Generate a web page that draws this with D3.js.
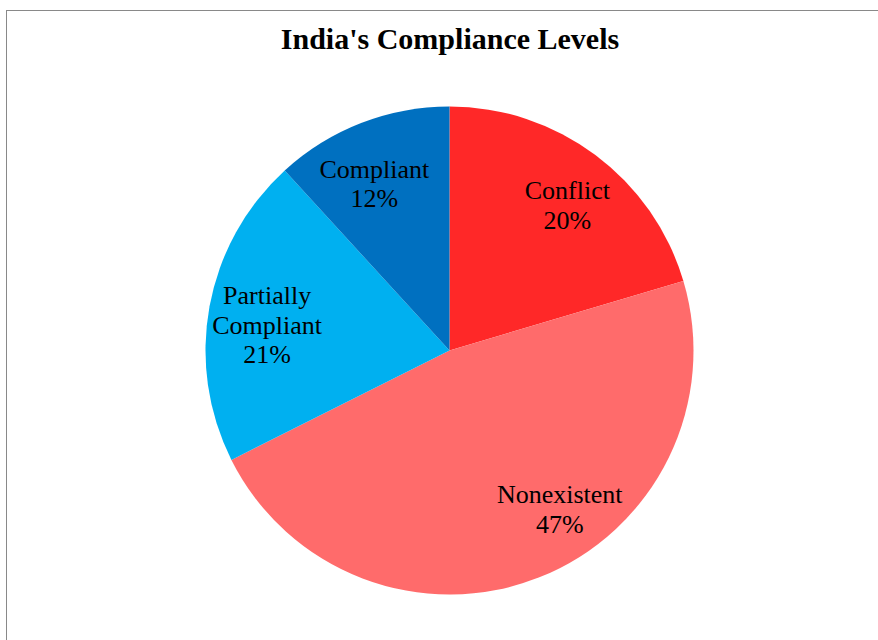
<!DOCTYPE html>
<html>
<head>
<meta charset="utf-8">
<script src="https://cdn.jsdelivr.net/npm/d3@7"></script>
<style>
  html, body { margin: 0; padding: 0; background: #fff; }
  svg { display: block; }
  text { font-family: "Liberation Serif", "Tinos", "Noto Serif", "DejaVu Serif", "FreeSerif", "Times", serif; }
</style>
</head>
<body>
<svg id="chart"></svg>
<script>
const width = 878, height = 640;

// slices in drawing order, clockwise from 12 o'clock
const categories = ["Conflict", "Nonexistent", "Partially Compliant", "Compliant"];
const shares = [20.4, 47.2, 20.6, 11.8];
const colors = ["#FF2828", "#FF6B6B", "#00B0F0", "#0070C0"];
// label lines per slice (Excel wraps the long one)
const labelLines = [["Conflict"], ["Nonexistent"], ["Partially", "Compliant"], ["Compliant"]];
// Excel's "best fit" shifts labels a bit off the centroid
const labelNudge = [[7, 3], [42, -14], [0, 8], [-8, 6]];

const svg = d3.select("#chart").attr("width", width).attr("height", height);

// chart area border (right and bottom edges fall outside the picture)
svg.append("rect")
    .attr("x", 6.5).attr("y", 10.5)
    .attr("width", width).attr("height", height)
    .attr("fill", "none").attr("stroke", "#898989").attr("stroke-width", 1);

svg.append("text")
    .attr("x", 450).attr("y", 49)
    .attr("text-anchor", "middle")
    .style("font-size", "30px").style("font-weight", "bold")
    .text("India's Compliance Levels");

const cx = 449.5, cy = 350.5, radius = 244;
const data = categories.map((c, i) => ({ name: c, value: shares[i], color: colors[i], lines: labelLines[i], nudge: labelNudge[i] }));

const pie = d3.pie().value(d => d.value).sort(null);
const arc = d3.arc().innerRadius(0).outerRadius(radius);
const labelArc = d3.arc().innerRadius(radius * 0.76).outerRadius(radius * 0.76);

const g = svg.append("g").attr("transform", `translate(${cx},${cy})`);
const arcs = pie(data);

g.selectAll("path.slice")
    .data(arcs)
    .join("path")
    .attr("class", "slice")
    .attr("d", arc)
    .attr("fill", d => d.data.color);

const lineH = 29.5;
const labels = g.selectAll("text.lbl")
    .data(arcs)
    .join("text")
    .attr("class", "lbl")
    .attr("text-anchor", "middle")
    .style("font-size", "26px")
    .attr("fill", "#000")
    .attr("transform", d => {
        const [x, y] = labelArc.centroid(d);
        return `translate(${x + d.data.nudge[0]},${y + d.data.nudge[1]})`;
    });

labels.each(function (d) {
    const lines = d.data.lines.concat([Math.round(d.data.value) + "%"]);
    const t = d3.select(this);
    const top = -((lines.length - 1) * lineH) / 2 + 9;
    lines.forEach((ln, i) => {
        t.append("tspan").attr("x", 0).attr("y", top + i * lineH).text(ln);
    });
});
</script>
</body>
</html>
